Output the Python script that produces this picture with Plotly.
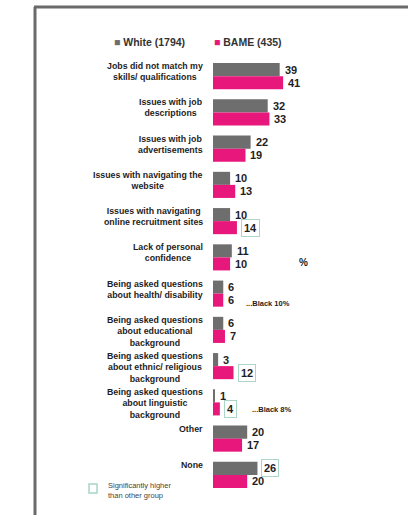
import plotly.graph_objects as go

# Survey: barriers faced when looking for work (% of respondents)
categories = [
    "Jobs did not match my<br>skills/ qualifications",
    "Issues with job<br>descriptions",
    "Issues with job<br>advertisements",
    "Issues with navigating the<br>website",
    "Issues with navigating<br>online recruitment sites",
    "Lack of personal<br>confidence",
    "Being asked questions<br>about health/ disability",
    "Being asked questions<br>about educational<br>background",
    "Being asked questions<br>about ethnic/ religious<br>background",
    "Being asked questions<br>about linguistic<br>background",
    "Other",
    "None",
]
white_values = [39, 32, 22, 10, 10, 11, 6, 6, 3, 1, 20, 26]
bame_values = [41, 33, 19, 13, 14, 10, 6, 7, 12, 4, 17, 20]
white_name = "White (1794)"
bame_name = "BAME (435)"

# Significantly higher than the other group
white_sig = [False] * 11 + [True]
bame_sig = [False, False, False, False, True, False, False, False, True, True, False, False]

GREY = "#6e6e6e"
PINK = "#e8177b"
SIG = "#a9d6c6"
TXT = "#1e1e1e"
FONT = "Liberation Sans"

W, H = 408, 515
ML, MR, MT, MB = 213, 24, 58, 22
PW, PH = W - ML - MR, H - MT - MB

def px(xp):
    return (xp - ML) / PW

def py(yp):
    return (H - MB - yp) / PH

idx = list(range(len(categories)))
half = 0.18

fig = go.Figure()
fig.add_trace(go.Bar(
    name=white_name, orientation="h",
    x=white_values, y=[i - half for i in idx], width=0.36,
    marker=dict(color=GREY, line=dict(width=0)),
))
fig.add_trace(go.Bar(
    name=bame_name, orientation="h",
    x=bame_values, y=[i + half for i in idx], width=0.36,
    marker=dict(color=PINK, line=dict(width=0)),
))

annotations = []
# Category labels, top-aligned with the grey bar
for i, cat in enumerate(categories):
    annotations.append(dict(
        x=0, y=i - 2 * half, xref="x", yref="y", text=cat,
        xanchor="right", yanchor="top", align="center", xshift=-8, yshift=4,
        showarrow=False, font=dict(family=FONT, size=8.8, color=TXT, weight="bold"),
    ))

# Value labels (boxed where significant)
for vals, sigs, off in ((white_values, white_sig, -half), (bame_values, bame_sig, half)):
    for i, (v, s) in enumerate(zip(vals, sigs)):
        a = dict(
            x=v, y=i + off, xref="x", yref="y", text=str(v),
            xanchor="left", yanchor="middle", xshift=4 if s else 3,
            showarrow=False, font=dict(family=FONT, size=11, color=TXT, weight="bold"),
        )
        if s:
            a.update(bordercolor=SIG, borderwidth=1, borderpad=2, bgcolor="white")
        annotations.append(a)

# Legend: small coloured squares followed by series names
for name, color, x0 in ((white_name, GREY, 112), (bame_name, PINK, 212)):
    annotations.append(dict(
        x=px(x0), y=py(42), xref="paper", yref="paper",
        text=f"<span style='color:{color}'>■</span> {name}",
        xanchor="left", yanchor="middle", showarrow=False,
        font=dict(family=FONT, size=10.5, color="#333333", weight="bold"),
    ))

# Extra notes
notes = [
    ("%", 297, 262, 10),
    ("...Black 10%", 244, 303, 7.5),
    ("...Black 8%", 250, 409, 7.5),
]
for text, x0, y0, fs in notes:
    annotations.append(dict(
        x=px(x0), y=py(y0), xref="paper", yref="paper", text=text,
        xanchor="left", yanchor="middle", showarrow=False,
        font=dict(family=FONT, size=fs, color=TXT, weight="bold"),
    ))

annotations.append(dict(
    x=px(106), y=py(490), xref="paper", yref="paper",
    text="Significantly higher<br>than other group",
    xanchor="left", yanchor="middle", align="left", showarrow=False,
    font=dict(family=FONT, size=7.5, color="#444444"),
))

shapes = [
    # key swatch
    dict(type="rect", xref="paper", yref="paper",
         x0=px(89), x1=px(97), y0=py(493), y1=py(484),
         line=dict(color=SIG, width=1.5), fillcolor="white"),
    # frame
    dict(type="line", xref="paper", yref="paper",
         x0=px(35), x1=px(35), y0=py(7), y1=py(H + 5),
         line=dict(color="#6a6a6a", width=3)),
    dict(type="line", xref="paper", yref="paper",
         x0=px(34), x1=px(W + 5), y0=py(7), y1=py(7),
         line=dict(color="#6a6a6a", width=3)),
]

fig.update_layout(
    width=W, height=H,
    margin=dict(l=ML, r=MR, t=MT, b=MB),
    paper_bgcolor="white", plot_bgcolor="white",
    barmode="overlay",
    showlegend=False,
    xaxis=dict(range=[0, 100], visible=False, fixedrange=True),
    yaxis=dict(range=[len(categories) - 0.5, -0.5], visible=False, fixedrange=True),
    annotations=annotations,
    shapes=shapes,
)

fig.write_html("out.html")
